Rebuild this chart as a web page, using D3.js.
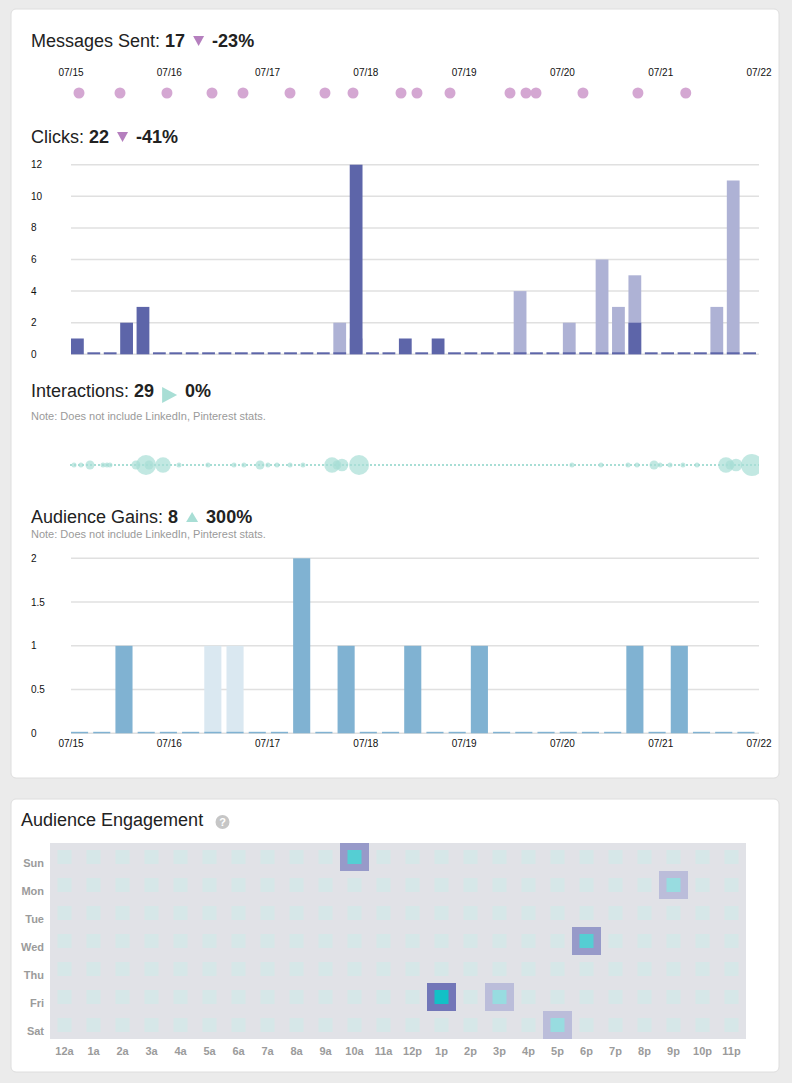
<!DOCTYPE html>
<html>
<head>
<meta charset="utf-8">
<script src="https://cdn.jsdelivr.net/npm/d3@7"></script>
<style>
body { margin: 0; background: #ebebeb; font-family: "Helvetica Neue", Helvetica, Arial, "Liberation Sans", sans-serif; }
svg text { font-family: inherit; }
</style>
</head>
<body>
<svg id="chart" width="792" height="1083"></svg>
<script>
// ---- data ----
var dayTicks = ["07/15", "07/16", "07/17", "07/18", "07/19", "07/20", "07/21", "07/22"];

var titles = ["Messages Sent", "Clicks", "Interactions", "Audience Gains"];
var totals = [17, 22, 29, 8];
var changes = ["-23%", "-41%", "0%", "300%"];
var trends = ["down", "down", "flat", "up"];

var messageTimes = ["07/15 01:57", "07/15 11:58", "07/15 23:26", "07/16 10:26", "07/16 18:00",
    "07/17 05:29", "07/17 14:01", "07/17 20:52", "07/18 08:35", "07/18 12:29", "07/18 20:33",
    "07/19 11:12", "07/19 15:06", "07/19 17:33", "07/20 05:01", "07/20 18:26", "07/21 06:07"];

// 4 hour buckets, this week vs last week
var clicksNow = [1, 0, 0, 2, 3, 0, 0, 0, 0, 0, 0, 0, 0, 0, 0, 0, 0, 12, 0, 0, 1,
    0, 1, 0, 0, 0, 0, 0, 0, 0, 0, 0, 0, 0, 2, 0, 0, 0, 0, 0, 0, 0];
var clicksPrev = [0, 0, 0, 0, 0, 0, 0, 0, 0, 0, 0, 0, 0, 0, 0, 0, 2, 1, 0, 0, 0,
    0, 0, 0, 0, 0, 0, 4, 0, 0, 2, 0, 6, 3, 5, 0, 0, 0, 0, 3, 11, 0];

var interactionTimes = ["07/15 00:44", "07/15 02:26", "07/15 04:38", "07/15 07:49", "07/15 08:47",
    "07/15 09:31", "07/15 15:52", "07/15 18:19", "07/15 19:03", "07/15 22:28", "07/16 02:22",
    "07/16 09:27", "07/16 15:48", "07/16 18:14", "07/16 22:09", "07/17 00:06", "07/17 02:18",
    "07/17 05:29", "07/17 08:39", "07/17 15:44", "07/17 16:57", "07/17 18:10", "07/17 22:20",
    "07/20 02:20", "07/20 09:25", "07/20 16:01", "07/20 18:13", "07/20 22:22", "07/20 23:50",
    "07/21 02:16", "07/21 05:26", "07/21 08:52", "07/21 15:56", "07/21 16:55", "07/21 18:23",
    "07/21 22:17"];
var interactionValues = [0, 0, 1, 0, 0, 0, 1, 5, 1, 3, 0, 0, 0, 0, 1, 0, 0, 0, 0, 3, 1, 2, 5,
    0, 0, 0, 0, 1, 0, 0, 0, 0, 3, 1, 2, 6];

var gainsNow = [0, 0, 1, 0, 0, 0, 0, 0, 0, 0, 2, 0, 1, 0, 0, 1, 0, 0, 1, 0, 0, 0, 0, 0, 0, 1, 0, 1, 0, 0, 0];
var gainsPrev = [0, 0, 0, 0, 0, 0, 1, 1, 0, 0, 0, 0, 0, 0, 0, 0, 0, 0, 0, 0, 0, 0, 0, 0, 0, 0, 0, 0, 0, 0, 0];

var weekDays = ["Sun", "Mon", "Tue", "Wed", "Thu", "Fri", "Sat"];
var hourLabels = ["12a", "1a", "2a", "3a", "4a", "5a", "6a", "7a", "8a", "9a", "10a", "11a",
    "12p", "1p", "2p", "3p", "4p", "5p", "6p", "7p", "8p", "9p", "10p", "11p"];
// [day index, hour index, engagement]
var engagement = [[0, 10, 2], [1, 21, 1], [3, 18, 2], [5, 13, 3], [5, 15, 1], [6, 17, 1]];

// ---- drawing ----
var svg = d3.select("#chart");
var parse = d3.timeParse("%m/%d %H:%M");
var x = d3.scaleTime()
    .domain([parse(dayTicks[0] + " 00:00"), parse(dayTicks[dayTicks.length - 1] + " 00:00")])
    .range([71, 759]);

// cards
svg.append("rect").attr("x", 11).attr("y", 9).attr("width", 768).attr("height", 769)
    .attr("rx", 5).attr("fill", "#fff").attr("stroke", "#dedede");
svg.append("rect").attr("x", 11).attr("y", 799).attr("width", 768).attr("height", 273)
    .attr("rx", 5).attr("fill", "#fff").attr("stroke", "#dedede");

svg.append("defs").append("clipPath").attr("id", "bubbleClip")
    .append("rect").attr("x", 60).attr("y", 440).attr("width", 699).attr("height", 50);

function header(i, y) {
    var t = svg.append("text").attr("x", 31).attr("y", y)
        .attr("font-size", 18).attr("fill", "#222");
    t.append("tspan").text(titles[i] + ": ");
    t.append("tspan").attr("font-weight", "bold").text(totals[i]);
    var w = t.node().getComputedTextLength();
    var tx = 31 + w + 8;
    var tri, tw;
    if (trends[i] == "down") {
        tri = "M0,-11L11,-11L5.5,-1Z"; tw = 11;
    } else if (trends[i] == "up") {
        tri = "M0,-1L12,-1L6,-11Z"; tw = 12;
    } else {
        tri = "M0,-10L15,-2L0,6Z"; tw = 15;
    }
    svg.append("path").attr("d", tri)
        .attr("transform", "translate(" + tx + "," + y + ")")
        .attr("fill", trends[i] == "down" ? "#b57fbe" : "#a8ded5");
    svg.append("text").attr("x", tx + tw + 8).attr("y", y)
        .attr("font-size", 18).attr("font-weight", "bold").attr("fill", "#222")
        .text(changes[i]);
}

function note(y) {
    svg.append("text").attr("x", 31).attr("y", y)
        .attr("font-size", 11).attr("fill", "#9a9a9a")
        .text("Note: Does not include LinkedIn, Pinterest stats.");
}

function dateLabels(y) {
    svg.append("g").selectAll("text").data(dayTicks).join("text")
        .attr("x", function(d) { return x(parse(d + " 00:00")); })
        .attr("y", y)
        .attr("text-anchor", "middle").attr("font-size", 10).attr("fill", "#111")
        .text(function(d) { return d; });
}

function grid(y, ticks, fmt) {
    var g = svg.append("g");
    g.selectAll("line").data(ticks).join("line")
        .attr("x1", 71).attr("x2", 759)
        .attr("y1", function(d) { return y(d); }).attr("y2", function(d) { return y(d); })
        .attr("stroke", "#e0e0e0").attr("stroke-width", 1.5);
    g.selectAll("text").data(ticks).join("text")
        .attr("x", 31).attr("y", function(d) { return y(d); }).attr("dy", "0.35em")
        .attr("font-size", 10).attr("fill", "#111")
        .text(fmt);
}

function bars(band, y, values, color, minH) {
    svg.append("g").selectAll("rect").data(values).join("rect")
        .attr("x", function(d, i) { return band(i); })
        .attr("width", band.bandwidth())
        .attr("y", function(d) { return Math.min(y(d), y(0) - minH); })
        .attr("height", function(d) { return Math.max(y(0) - y(d), minH); })
        .attr("fill", color);
}

// Messages sent
header(0, 47);
dateLabels(76);
svg.append("g").selectAll("circle").data(messageTimes).join("circle")
    .attr("cx", function(d) { return x(parse(d)); })
    .attr("cy", 93).attr("r", 5.5)
    .attr("fill", "#d4a7d2");

// Clicks
header(1, 143);
var yClicks = d3.scaleLinear().domain([0, 12]).range([354.3, 164.7]);
grid(yClicks, d3.range(0, 13, 2), function(d) { return d; });
var clickBand = d3.scaleBand().domain(d3.range(clicksNow.length)).range([71, 756]).paddingInner(0.22);
bars(clickBand, yClicks, clicksPrev, "#aeb2d5", 0);
bars(clickBand, yClicks, clicksNow, "#5d65a9", 2);

// Interactions
header(2, 397);
note(420);
var bub = svg.append("g").attr("clip-path", "url(#bubbleClip)");
bub.append("line").attr("x1", 70).attr("x2", 759).attr("y1", 465).attr("y2", 465)
    .attr("stroke", "#a8ded5").attr("stroke-width", 2).attr("stroke-dasharray", "2,2");
var r = d3.scaleSqrt().domain([0, d3.max(interactionValues)]).range([0, 11]);
bub.selectAll("circle").data(interactionTimes).join("circle")
    .attr("cx", function(d) { return x(parse(d)); })
    .attr("cy", 465)
    .attr("r", function(d, i) { return Math.max(2.5, r(interactionValues[i])); })
    .attr("fill", "#a8ded5").attr("fill-opacity", 0.7);

// Audience gains
header(3, 523);
note(538);
var yGains = d3.scaleLinear().domain([0, 2]).range([733.3, 558.3]);
grid(yGains, [0, 0.5, 1, 1.5, 2], function(d) { return d; });
var gainBand = d3.scaleBand().domain(d3.range(gainsNow.length)).range([71, 754.5]).paddingInner(0.23);
bars(gainBand, yGains, gainsPrev, "#dae8f1", 0);
bars(gainBand, yGains, gainsNow, "#80b2d2", 1.5);
dateLabels(746.5);

// Audience engagement heatmap
svg.append("text").attr("x", 21).attr("y", 826)
    .attr("font-size", 18).attr("fill", "#222").text("Audience Engagement");
svg.append("circle").attr("cx", 222.5).attr("cy", 822).attr("r", 7).attr("fill", "#c6c6c6");
svg.append("text").attr("x", 222.5).attr("y", 826).attr("text-anchor", "middle")
    .attr("font-size", 11).attr("font-weight", "bold").attr("fill", "#fff").text("?");

var hx = d3.scaleBand().domain(hourLabels).range([50, 746]);
var hy = d3.scaleBand().domain(weekDays).range([843, 1039]);
svg.append("rect").attr("x", 50).attr("y", 843).attr("width", 696).attr("height", 196)
    .attr("fill", "#e1e2e7");

var lookup = {};
engagement.forEach(function(e) { lookup[e[0] + "-" + e[1]] = e[2]; });
var outerColor = d3.scaleLinear().domain([1, 3]).range(["#bbbdda", "#7276b8"]);
var innerColor = d3.scaleLinear().domain([0, 1, 3]).range(["#d6e7e8", "#98dce0", "#12c0c6"]);

var cells = [];
weekDays.forEach(function(d, di) {
    hourLabels.forEach(function(h, hi) {
        cells.push({ day: d, hour: h, v: lookup[di + "-" + hi] || 0 });
    });
});

var cg = svg.append("g");
cg.selectAll("rect.outer").data(cells.filter(function(c) { return c.v > 0; })).join("rect")
    .attr("class", "outer")
    .attr("x", function(c) { return hx(c.hour); }).attr("y", function(c) { return hy(c.day); })
    .attr("width", hx.bandwidth()).attr("height", hy.bandwidth())
    .attr("fill", function(c) { return outerColor(c.v); });
cg.selectAll("rect.inner").data(cells).join("rect")
    .attr("class", "inner")
    .attr("x", function(c) { return hx(c.hour) + (hx.bandwidth() - 14) / 2; })
    .attr("y", function(c) { return hy(c.day) + (hy.bandwidth() - 14) / 2; })
    .attr("width", 14).attr("height", 14)
    .attr("fill", function(c) { return innerColor(c.v); });

svg.append("g").selectAll("text").data(weekDays).join("text")
    .attr("x", 44).attr("y", function(d) { return hy(d) + hy.bandwidth() / 2 + 10; })
    .attr("text-anchor", "end").attr("font-size", 11).attr("font-weight", "bold")
    .attr("fill", "#9b9b9b").text(function(d) { return d; });
svg.append("g").selectAll("text").data(hourLabels).join("text")
    .attr("x", function(d) { return hx(d) + hx.bandwidth() / 2; }).attr("y", 1055)
    .attr("text-anchor", "middle").attr("font-size", 11).attr("font-weight", "bold")
    .attr("fill", "#9b9b9b").text(function(d) { return d; });
</script>
</body>
</html>
